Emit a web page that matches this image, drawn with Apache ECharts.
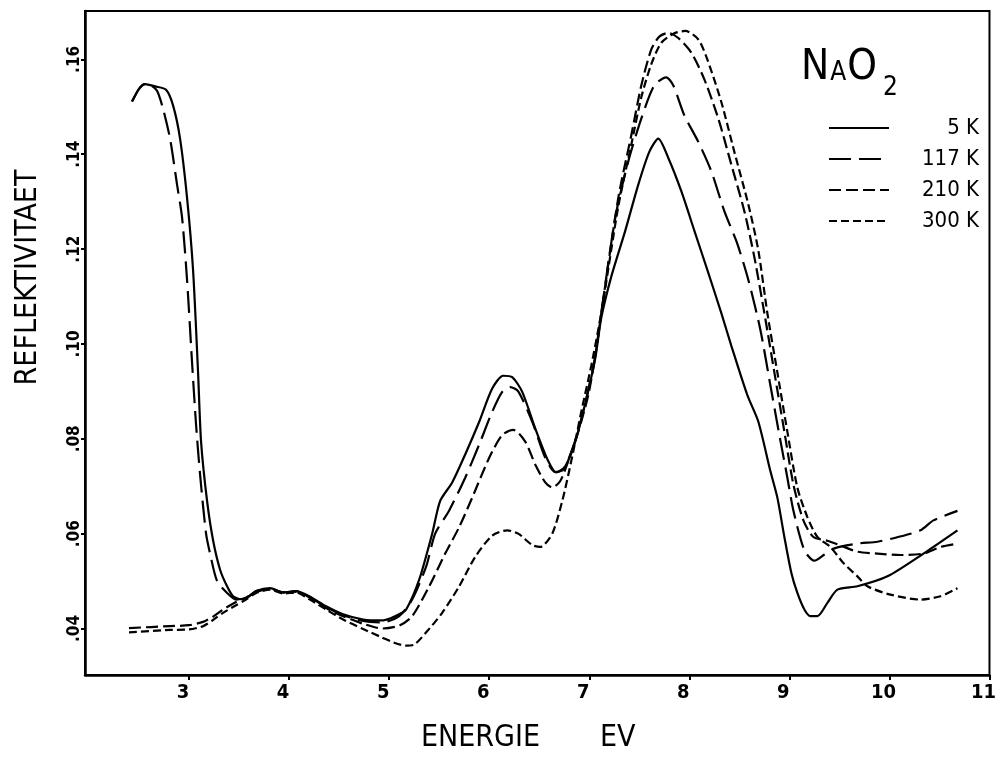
<!DOCTYPE html>
<html>
<head>
<meta charset="utf-8">
<title>NaO2 Reflektivitaet</title>
<script src="https://cdn.jsdelivr.net/npm/echarts@6/dist/echarts.min.js"></script>
<style>
  html, body { margin: 0; background: #fff; }
  #chart { width: 999px; height: 758px; }
</style>
</head>
<body>
<div id="chart"></div>
<script>
// reflectivity of NaO2 vs photon energy (eV), one curve per temperature
const k5 = [[2.43,.1511],[2.50,.1538],[2.56,.1548],[2.66,.1543],[2.77,.1536],[2.84,.1503],[2.91,.1433],[2.98,.1308],[3.04,.1156],[3.09,.0940],[3.12,.0794],[3.18,.0669],[3.24,.0586],[3.31,.0524],[3.38,.0489],[3.44,.0468],[3.52,.0462],[3.60,.0468],[3.67,.0479],[3.81,.0485],[3.94,.0476],[4.07,.0479],[4.20,.0468],[4.37,.0447],[4.54,.0430],[4.74,.0419],[4.93,.0417],[5.03,.0423],[5.10,.0430],[5.17,.0440],[5.30,.0503],[5.43,.0600],[5.51,.0669],[5.63,.0708],[5.76,.0767],[5.90,.0836],[6.03,.0906],[6.14,.0933],[6.23,.0930],[6.33,.0899],[6.46,.0822],[6.59,.0753],[6.67,.0729],[6.76,.0742],[6.86,.0794],[6.96,.0875],[7.06,.0970],[7.12,.1055],[7.22,.1142],[7.36,.1239],[7.49,.1336],[7.60,.1405],[7.69,.1433],[7.79,.1392],[7.92,.1322],[8.05,.1239],[8.18,.1156],[8.32,.1065],[8.42,.0996],[8.58,.0892],[8.69,.0836],[8.81,.0732],[8.88,.0676],[8.95,.0593],[9.02,.0517],[9.08,.0475],[9.15,.0440],[9.21,.0426],[9.28,.0426],[9.38,.0454],[9.48,.0482],[9.68,.0489],[9.98,.0510],[10.34,.0558],[10.68,.0607]];

const k117 = [[2.43,.1511],[2.50,.1538],[2.56,.1548],[2.62,.1545],[2.68,.1534],[2.74,.1496],[2.81,.1433],[2.88,.1336],[2.93,.1267],[2.98,.1135],[3.03,.0961],[3.07,.0830],[3.11,.0725],[3.17,.0600],[3.21,.0558],[3.28,.0500],[3.38,.0475],[3.47,.0461],[3.60,.0468],[3.67,.0479],[3.81,.0483],[3.94,.0476],[4.07,.0478],[4.20,.0467],[4.37,.0445],[4.54,.0428],[4.74,.0416],[4.93,.0413],[5.10,.0426],[5.23,.0461],[5.37,.0531],[5.46,.0600],[5.60,.0649],[5.76,.0718],[5.90,.0788],[6.03,.0857],[6.13,.0899],[6.21,.0909],[6.29,.0900],[6.43,.0836],[6.56,.0760],[6.66,.0730],[6.74,.0735],[6.85,.0790],[6.96,.0875],[7.06,.0975],[7.12,.1065],[7.26,.1267],[7.39,.1385],[7.52,.1475],[7.65,.1545],[7.77,.1562],[7.84,.1545],[7.95,.1482],[8.09,.1426],[8.22,.1364],[8.35,.1280],[8.48,.1211],[8.59,.1135],[8.71,.1030],[8.81,.0913],[8.90,.0808],[8.98,.0718],[9.04,.0649],[9.15,.0565],[9.25,.0543],[9.35,.0556],[9.45,.0569],[9.68,.0579],[9.88,.0583],[10.07,.0592],[10.31,.0607],[10.44,.0628],[10.68,.0648]];

const k210 = [[2.40,.0401],[2.81,.0405],[3.00,.0407],[3.14,.0414],[3.24,.0425],[3.34,.0440],[3.47,.0456],[3.57,.0465],[3.67,.0477],[3.81,.0484],[3.94,.0476],[4.07,.0479],[4.20,.0466],[4.37,.0443],[4.54,.0426],[4.74,.0410],[4.93,.0400],[5.10,.0406],[5.23,.0426],[5.40,.0489],[5.56,.0558],[5.70,.0614],[5.83,.0676],[6.00,.0760],[6.13,.0808],[6.24,.0819],[6.36,.0794],[6.46,.0746],[6.56,.0708],[6.63,.0697],[6.71,.0711],[6.79,.0753],[6.89,.0815],[6.99,.0892],[7.06,.0975],[7.12,.1065],[7.29,.1308],[7.42,.1440],[7.52,.1545],[7.62,.1621],[7.70,.1648],[7.79,.1656],[7.89,.1645],[8.02,.1614],[8.15,.1558],[8.29,.1475],[8.42,.1378],[8.55,.1280],[8.65,.1183],[8.75,.1065],[8.85,.0940],[8.95,.0815],[9.04,.0704],[9.14,.0628],[9.24,.0593],[9.38,.0585],[9.50,.0576],[9.68,.0562],[9.88,.0558],[10.11,.0555],[10.34,.0558],[10.51,.0572],[10.68,.0579]];

const k300 = [[2.40,.0392],[2.81,.0397],[3.00,.0398],[3.14,.0405],[3.24,.0418],[3.34,.0433],[3.47,.0449],[3.57,.0461],[3.67,.0475],[3.81,.0482],[3.94,.0474],[4.07,.0476],[4.20,.0462],[4.37,.0440],[4.54,.0419],[4.74,.0399],[4.93,.0381],[5.05,.0370],[5.17,.0364],[5.25,.0366],[5.37,.0392],[5.53,.0433],[5.70,.0489],[5.86,.0551],[6.03,.0596],[6.18,.0607],[6.29,.0600],[6.43,.0576],[6.51,.0572],[6.63,.0600],[6.73,.0669],[6.82,.0753],[6.92,.0857],[7.02,.0954],[7.12,.1065],[7.29,.1290],[7.42,.1420],[7.52,.1520],[7.62,.1590],[7.72,.1635],[7.85,.1655],[7.96,.1660],[8.09,.1642],[8.18,.1600],[8.32,.1510],[8.45,.1405],[8.59,.1294],[8.69,.1197],[8.78,.1065],[8.88,.0940],[8.98,.0815],[9.08,.0697],[9.18,.0635],[9.28,.0593],[9.41,.0572],[9.54,.0538],[9.68,.0510],[9.78,.0489],[10.00,.0472],[10.31,.0461],[10.51,.0468],[10.68,.0485]];

const xTicks = [3, 4, 5, 6, 7, 8, 9, 10, 11];
const yTicks = [0.04, 0.06, 0.08, 0.10, 0.12, 0.14, 0.16];
const names = ['5 K', '117 K', '210 K', '300 K'];

const FONT = "'DejaVu Sans Condensed', 'Liberation Sans Narrow', sans-serif";

var chart = echarts.init(document.getElementById('chart'));

function curve(name, data, dash) {
  return {
    name: name,
    type: 'line',
    data: data,
    symbol: 'none',
    smooth: 0.25,
    lineStyle: { color: '#000', width: 2.2, type: dash },
    itemStyle: { color: '#000' }
  };
}

var option = {
  animation: false,
  backgroundColor: '#fff',
  title: {
    text: '{n|N}{a|A}{n|O}{s|2}',
    left: 801,
    top: 47,
    padding: 0,
    textStyle: {
      rich: {
        n: { fontSize: 42, lineHeight: 42, verticalAlign: 'top', fontWeight: 'normal', fontFamily: FONT, color: '#000' },
        a: { fontSize: 26, lineHeight: 26, verticalAlign: 'top', padding: [13, 1, 0, 1], fontWeight: 'normal', fontFamily: FONT, color: '#000' },
        s: { fontSize: 26, lineHeight: 26, verticalAlign: 'top', padding: [28, 0, 0, 6], fontWeight: 'normal', fontFamily: FONT, color: '#000' }
      }
    }
  },
  legend: {
    data: names,
    orient: 'vertical',
    left: 828,
    top: 117,
    padding: 0,
    itemWidth: 60,
    itemHeight: 14,
    itemGap: 9,
    selectedMode: false,
    itemStyle: { opacity: 0, borderWidth: 0 },
    formatter: function (n) { return '{t|' + n + '}'; },
    textStyle: {
      rich: {
        t: { fontSize: 22, lineHeight: 22, width: 85, align: 'right', fontFamily: FONT, color: '#000' }
      }
    }
  },
  grid: {
    left: 85,
    right: 6,
    top: 11,
    bottom: 75,
    show: true,
    borderColor: '#000',
    borderWidth: 2
  },
  xAxis: {
    type: 'value',
    min: 1.96,
    max: 11,
    name: 'ENERGIE       EV',
    nameLocation: 'middle',
    nameGap: 48,
    nameTextStyle: { fontSize: 30, fontFamily: FONT, color: '#000', padding: [0, 18, 0, 0] },
    axisLine: { lineStyle: { color: '#000', width: 2.5 } },
    axisTick: { customValues: xTicks, length: 5, lineStyle: { color: '#000', width: 2 } },
    axisLabel: {
      customValues: xTicks,
      fontSize: 20,
      fontWeight: 'bold',
      fontFamily: FONT,
      color: '#000',
      margin: 8,
      padding: [0, 12, 0, 0]
    },
    splitLine: { show: false }
  },
  yAxis: {
    type: 'value',
    min: 0.0302,
    max: 0.1702,
    name: 'REFLEKTIVITAET',
    nameLocation: 'middle',
    nameGap: 42,
    nameTextStyle: { fontSize: 30, fontFamily: FONT, color: '#000', padding: [0, 0, 0, 131] },
    axisLine: { show: true, lineStyle: { color: '#000', width: 2.5 } },
    axisTick: { show: true, customValues: yTicks, length: 4, lineStyle: { color: '#000', width: 2 } },
    axisLabel: {
      customValues: yTicks,
      rotate: 90,
      fontSize: 17,
      fontWeight: 'bold',
      fontFamily: FONT,
      color: '#000',
      margin: 2,
      formatter: function (v) { return '.' + String(Math.round(v * 100)).padStart(2, '0'); }
    },
    splitLine: { show: false }
  },
  series: [
    curve(names[0], k5, 'solid'),
    curve(names[1], k117, [22, 8]),
    curve(names[2], k210, [12, 5]),
    curve(names[3], k300, [8, 4])
  ]
};

chart.setOption(option);
</script>
</body>
</html>
